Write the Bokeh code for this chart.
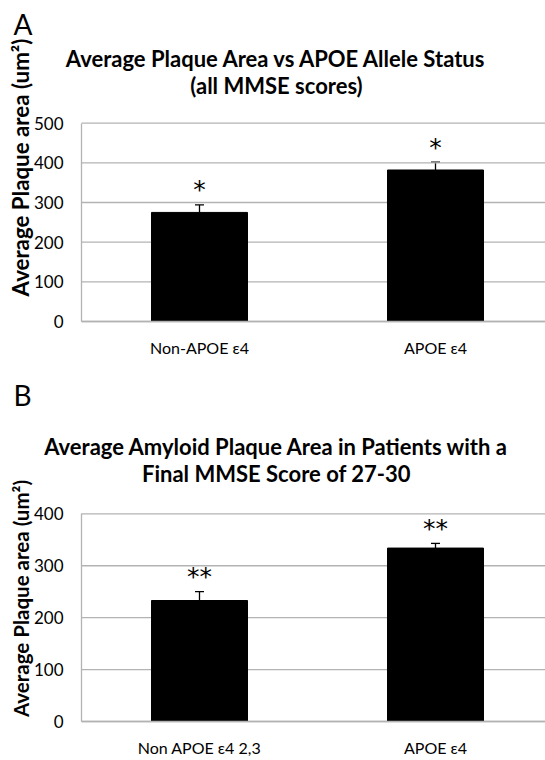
import math
from bokeh.plotting import figure
from bokeh.models import Range1d, FixedTicker, Whisker, TeeHead, ColumnDataSource, Label
from bokeh.layouts import column
from bokeh.embed import file_html
from bokeh.resources import INLINE
from bokeh.core.properties import value

# ---- data ----
cats_a = ["Non-APOE \u03b54", "APOE \u03b54"]
means_a = [275, 382]
errs_a = [19, 20]
stars_a = ["*", "*"]
ticks_a = [0, 100, 200, 300, 400, 500]

cats_b = ["Non APOE \u03b54 2,3", "APOE \u03b54"]
means_b = [233, 334]
errs_b = [17, 9]
stars_b = ["**", "**"]
ticks_b = [0, 100, 200, 300, 400]

title_a = ["Average Plaque Area vs APOE Allele Status", "(all MMSE scores)"]
title_b = ["Average Amyloid Plaque Area in Patients with a", "Final MMSE Score of 27-30"]
ylabel = "Average Plaque area (um\u00b2)"

FONT = "Lato"
GRID = "#b3b3b3"
W = 545
AX_X = 81          # pixel column of the value axis
BAND = 236         # pixels per category


def panel(cats, means, errs, stars, ticks, titles, letter, height, zero_px, top_px,
          title_ys, letter_y, ylab_y, ylab_size):
    # zero_px / top_px: canvas pixel rows of the value 0 and of the last tick
    k = (zero_px - top_px) / ticks[-1]          # px per unit
    xr = Range1d(-AX_X / BAND, (W - AX_X) / BAND)
    yr = Range1d(-(height - zero_px) / k, zero_px / k)

    def dx(px):
        return (px - AX_X) / BAND

    def dy(py):
        return (zero_px - py) / k

    xs = [i + 0.5 for i in range(len(cats))]
    xmax = (W - AX_X) / BAND
    src = ColumnDataSource(dict(x=xs, top=means,
                                up=[m + e for m, e in zip(means, errs)],
                                star=stars))
    p = figure(width=W, height=height, output_backend="svg", toolbar_location=None,
               x_range=xr, y_range=yr, min_border=0)
    p.title.visible = False
    p.outline_line_color = None
    p.background_fill_color = "white"
    p.border_fill_color = "white"
    p.xgrid.visible = False
    p.ygrid.visible = False

    # horizontal grid lines at the ticks, starting at the value axis
    p.segment(x0=[0] * len(ticks), x1=[xmax] * len(ticks), y0=ticks, y1=ticks,
              line_color=GRID, line_width=1.3)

    p.vbar(x="x", top="top", width=96 / BAND, bottom=0, source=src,
           fill_color="black", line_color="black")
    w = Whisker(base="x", upper="up", lower="top", source=src, line_color="black",
                line_width=1.3, lower_head=None,
                upper_head=TeeHead(size=9, line_color="black", line_width=1.3))
    p.add_layout(w)
    p.text(x="x", y="up", text="star", source=src, text_align="center",
           text_baseline="middle", y_offset=-15, text_font=value("DejaVu Sans"),
           text_font_size="25px", text_color="black")

    # axes fixed at the frame positions
    p.yaxis.fixed_location = 0
    p.yaxis.bounds = (0, ticks[-1])
    p.yaxis.ticker = FixedTicker(ticks=ticks)
    p.yaxis.major_tick_line_color = None
    p.yaxis.major_tick_out = 0
    p.yaxis.major_tick_in = 0
    p.yaxis.minor_tick_line_color = None
    p.yaxis.axis_line_color = GRID
    p.yaxis.axis_line_width = 1.3
    p.yaxis.major_label_standoff = 18
    p.yaxis.major_label_text_font = FONT
    p.yaxis.major_label_text_font_size = "17px"
    p.yaxis.major_label_text_color = "black"

    p.xaxis.fixed_location = 0
    p.xaxis.bounds = (0, xmax)
    p.xaxis.ticker = FixedTicker(ticks=xs)
    p.xaxis.major_label_overrides = {x: c for x, c in zip(xs, cats)}
    p.xaxis.major_tick_line_color = None
    p.xaxis.major_tick_out = 0
    p.xaxis.major_tick_in = 0
    p.xaxis.minor_tick_line_color = None
    p.xaxis.axis_line_color = GRID
    p.xaxis.axis_line_width = 1.3
    p.xaxis.major_label_standoff = 16
    p.xaxis.major_label_text_font = FONT
    p.xaxis.major_label_text_font_size = "16px"
    p.xaxis.major_label_text_color = "black"

    for t, ty in zip(titles, title_ys):
        p.add_layout(Label(x=dx(276), y=dy(ty), text=t, text_align="center",
                           text_baseline="middle", text_font=FONT,
                           text_font_style="bold", text_font_size="22px",
                           text_color="black"))
    p.add_layout(Label(x=dx(13), y=dy(letter_y), text=letter, text_align="left",
                       text_baseline="middle", text_font=FONT, text_font_size="28px",
                       text_color="black"))
    p.add_layout(Label(x=dx(20), y=dy(ylab_y), text=ylabel, angle=math.pi / 2,
                       text_align="center", text_baseline="middle", text_font=FONT,
                       text_font_style="bold", text_font_size=ylab_size,
                       text_color="black"))
    return p


# panel A occupies rows 0-372 of the page, panel B rows 372-760
pa = panel(cats_a, means_a, errs_a, stars_a, ticks_a, title_a, "A", 372,
           321, 122.7, [58, 84.5], 23, 167, "22.3px")
pb = panel(cats_b, means_b, errs_b, stars_b, ticks_b, title_b, "B", 388,
           721 - 372, 513.3 - 372, [446 - 372, 472.5 - 372], 394 - 372, 598 - 372,
           "20.5px")

layout = column(pa, pb, spacing=0)
open("out.html", "w").write(file_html(layout, INLINE))
